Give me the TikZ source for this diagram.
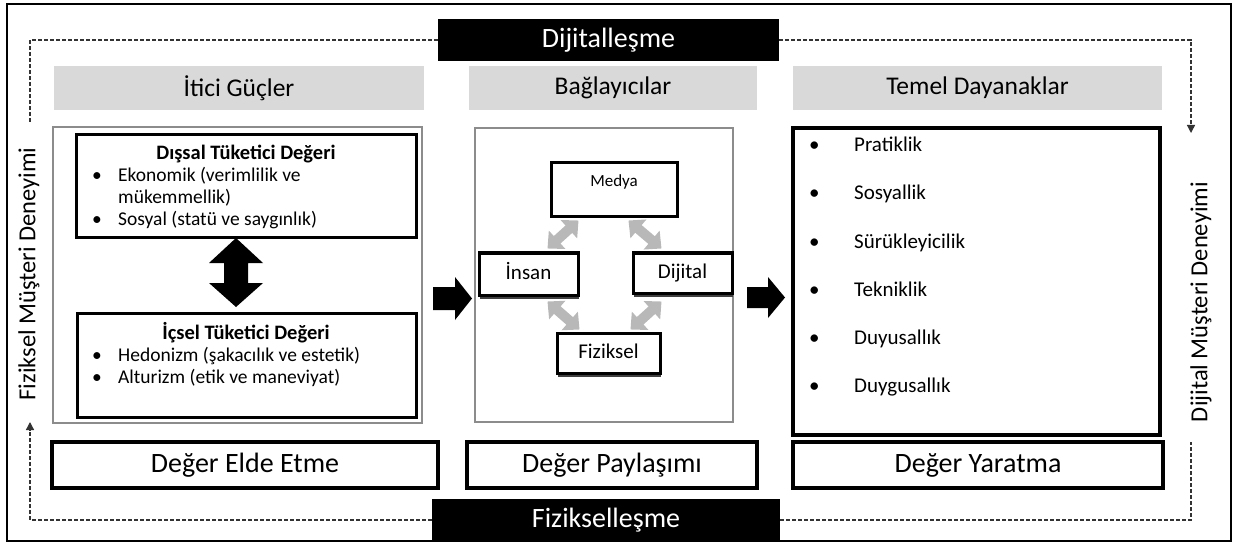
\documentclass[tikz,border=0pt]{standalone}
\usepackage{fontspec}
\setmainfont{Carlito}
\usetikzlibrary{arrows.meta,calc,shadows}
\definecolor{hdrgray}{HTML}{D9D9D9}
\definecolor{boxgray}{HTML}{8C8C8C}
\definecolor{arrgray}{HTML}{B8B8B8}
\definecolor{dashc}{HTML}{333333}
\newcommand\bx[7]{\node[#6, minimum width={#4-#2}, minimum height={#5-#3}, inner sep=0pt] (#1) at ({(#2+#4)/2},{(#3+#5)/2}) {#7};}
\begin{document}
\begin{tikzpicture}[x=1pt,y=-1pt,
  hdr/.style={fill=hdrgray, font=\fontsize{25.5}{30}\selectfont},
  blk/.style={fill=black, text=white, font=\fontsize{28}{33}\selectfont},
  thinbox/.style={draw=boxgray, line width=1.5pt},
  thk/.style={draw=black, line width=3pt, fill=white},
  btm/.style={draw=black, line width=3.5pt, fill=white, font=\fontsize{28}{33}\selectfont},
  smallbox/.style={draw=black, line width=3pt, fill=white, font=\fontsize{21}{25}\selectfont, text height=14pt, text depth=4pt},
  shd/.style={drop shadow={shadow xshift=1pt, shadow yshift=-3.5pt, fill=black!75, opacity=1}},
  txt/.style={inner sep=0pt, anchor=base west, font=\fontsize{19.5}{23}\selectfont},
  ttl/.style={inner sep=0pt, anchor=base, font=\bfseries\fontsize{20.5}{24}\selectfont},
  itm/.style={inner sep=0pt, anchor=base west, font=\fontsize{21}{25}\selectfont},
  dsh/.style={draw=dashc, line width=1.3pt, dash pattern=on 4pt off 2pt},
  tipend/.style={-{Triangle[width=8pt,length=8pt]}},
  garr/.style={draw=arrgray, line width=10pt, {Triangle[width=24pt,length=13pt]}-{Triangle[width=24pt,length=13pt]}},
  side/.style={rotate=90, font=\fontsize{24.5}{29}\selectfont, inner sep=0pt}
]
\useasboundingbox (0,0) rectangle (1241,545);
\draw[line width=1.2pt] (7,4) rectangle (1231,541);

% coordinates for the dashed loop
\coordinate (tl) at (30,40);
\coordinate (lt) at (30,122);
\coordinate (tr) at (1191,40);
\coordinate (rt) at (1191,133);
\coordinate (bl) at (30,520);
\coordinate (lb) at (30,422);
\coordinate (br) at (1191,520);
\coordinate (rb) at (1191,442);

% black boxes
\bx{dig}{438}{19}{779}{61}{blk}{Dijitalleşme}
\bx{fiz}{432}{499}{780}{541}{blk}{Fizikselleşme}

\draw[dsh] (dig.west) -- (tl) -- (lt);
\draw[dsh,tipend] (dig.east) -- (tr) -- (rt);
\draw[dsh,tipend] (fiz.west) -- (bl) -- (lb);
\draw[dsh] (fiz.east) -- (br) -- (rb);

% side texts
\node[side] (sl) at (29,274) {Fiziksel Müşteri Deneyimi};
\node[side] (sr) at (1201,302) {Dijital Müşteri Deneyimi};

% headers
\bx{h1}{54}{66}{424}{110}{hdr}{İtici Güçler}
\bx{h2}{469}{66}{757}{110}{hdr}{Bağlayıcılar}
\bx{h3}{793}{66}{1162}{110}{hdr}{Temel Dayanaklar}

% column boxes
\bx{c1}{53}{127}{422}{423}{thinbox}{}
\bx{c2}{475}{128}{733}{422}{thinbox}{}
\bx{c3}{793}{128}{1160}{435}{thk,line width=3.5pt}{}

% bottom boxes
\bx{b1}{52}{442}{438}{488}{btm}{Değer Elde Etme}
\bx{b2}{467}{442}{757}{488}{btm}{Değer Paylaşımı}
\bx{b3}{793}{442}{1163}{488}{btm}{Değer Yaratma}

% column 1
\bx{dis}{76}{135}{416}{238}{thk}{}
\bx{ics}{77}{313}{416}{417}{thk}{}
\node[ttl] (dist) at (246,160) {Dışsal Tüketici Değeri};
\node[txt] (disb1) at (92,182) {\textbullet};
\node[txt] (dis1) at (118,182) {Ekonomik (verimlilik ve};
\node[txt] (dis1b) at (118,204) {mükemmellik)};
\node[txt] (disb2) at (92,226) {\textbullet};
\node[txt] (dis2) at (118,226) {Sosyal (statü ve saygınlık)};
\node[ttl] (icst) at (246,339) {İçsel Tüketici Değeri};
\node[txt] (icsb1) at (92,361) {\textbullet};
\node[txt] (ics1) at (118,361) {Hedonizm (şakacılık ve estetik)};
\node[txt] (icsb2) at (92,383) {\textbullet};
\node[txt] (ics2) at (118,383) {Alturizm (etik ve maneviyat)};

% double arrow
\fill (236,238) -- (263,263) -- (248,263) -- (248,283) -- (263,283) -- (236,307)
  -- (209,283) -- (224,283) -- (224,263) -- (209,263) -- cycle;

% block arrows
\fill (433,287) -- (455,287) -- (455,277) -- (472,298.5) -- (455,320) -- (455,310) -- (433,310) -- cycle;
\fill (747,287) -- (768,287) -- (768,277) -- (785,297.5) -- (768,318) -- (768,308) -- (747,308) -- cycle;

% column 2
\bx{medya}{551}{163}{677}{217}{smallbox}{}
\node[inner sep=0pt, font=\fontsize{17}{20}\selectfont] (medyat) at (614,182) {Medya};
\bx{insan}{479}{253}{578}{295}{smallbox,shd}{İnsan}
\bx{dijital}{633}{253}{732}{293}{smallbox,shd}{Dijital}
\bx{fizik}{557}{333}{660}{373}{smallbox,shd}{Fiziksel}

\draw[garr] ($(medya.south west)+(29,2)$) -- ($(insan.north east)+(-32,-3)$);
\draw[garr] ($(medya.south east)+(-50,2)$) -- ($(dijital.north west)+(30,-3)$);
\draw[garr] ($(insan.south east)+(-32,5)$) -- ($(fizik.north west)+(24,-2)$);
\draw[garr] ($(dijital.south west)+(30,7)$) -- ($(fizik.north east)+(-31,-2)$);

% column 3
\node[itm] (p1b) at (809,152) {\textbullet};
\node[itm] (p1) at (854,152) {Pratiklik};
\node[itm] (p2b) at (809,200) {\textbullet};
\node[itm] (p2) at (854,200) {Sosyallik};
\node[itm] (p3b) at (809,249) {\textbullet};
\node[itm] (p3) at (854,249) {Sürükleyicilik};
\node[itm] (p4b) at (809,296) {\textbullet};
\node[itm] (p4) at (854,296) {Tekniklik};
\node[itm] (p5b) at (809,344) {\textbullet};
\node[itm] (p5) at (854,344) {Duyusallık};
\node[itm] (p6b) at (809,392) {\textbullet};
\node[itm] (p6) at (854,392) {Duygusallık};
\end{tikzpicture}
\end{document}
